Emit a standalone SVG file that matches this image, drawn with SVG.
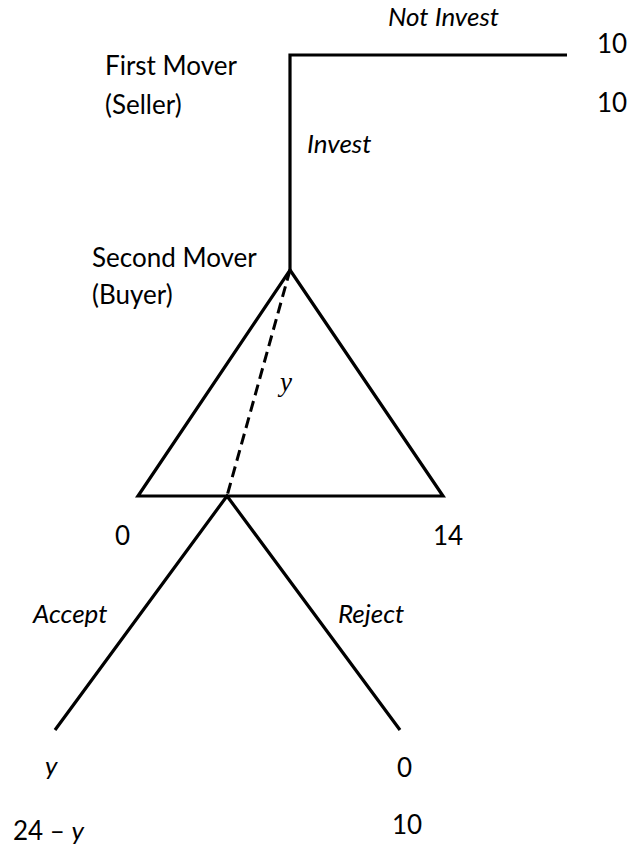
<svg xmlns="http://www.w3.org/2000/svg" width="627" height="851" viewBox="0 0 627 851">
<style>
.t{font-family:Lato,"Liberation Sans",sans-serif;font-size:26px;fill:#000}
.i{font-style:italic}
.ln{fill:none;stroke:#000;stroke-width:3.2;stroke-linecap:butt;stroke-linejoin:miter}
.ds{fill:none;stroke:#000;stroke-width:3;stroke-dasharray:11 6}
</style>
<rect width="627" height="851" fill="#fff"/>
<g id="connectors">
<polyline class="ln" points="567,55 290,55 290,270"/>
<polygon class="ln" points="290,270 443,496 138,496"/>
<line class="ds" x1="290" y1="270" x2="227" y2="496"/>
<polyline class="ln" points="55,730 227,496 400,730"/>
</g>
<g id="first-mover">
<text class="t" x="105" y="75">First Mover</text>
<text class="t" x="105" y="114">(Seller)</text>
</g>
<g id="not-invest-label"><text class="t i" x="388" y="26">Not Invest</text></g>
<g id="payoff-not-invest">
<text class="t" x="597" y="53">10</text>
<text class="t" x="597" y="112">10</text>
</g>
<g id="invest-label"><text class="t i" x="307" y="153">Invest</text></g>
<g id="second-mover">
<text class="t" x="92" y="267">Second Mover</text>
<text class="t" x="92" y="304">(Buyer)</text>
</g>
<g id="offer-y"><text x="280" y="391" font-family="Liberation Serif,serif" font-style="italic" font-size="27">y</text></g>
<g id="range-labels">
<text class="t" x="115" y="545">0</text>
<text class="t" x="433" y="545">14</text>
</g>
<g id="accept-label"><text class="t i" x="33" y="623">Accept</text></g>
<g id="reject-label"><text class="t i" x="338" y="623">Reject</text></g>
<g id="payoff-accept">
<text class="t i" x="45" y="775">y</text>
<text class="t" x="13" y="840">24 – <tspan class="i">y</tspan></text>
</g>
<g id="payoff-reject">
<text class="t" x="397" y="777">0</text>
<text class="t" x="392" y="834">10</text>
</g>
</svg>
